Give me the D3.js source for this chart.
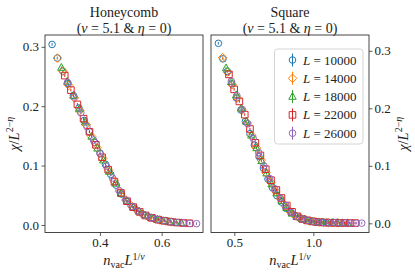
<!DOCTYPE html>
<html><head><meta charset="utf-8">
<script src="https://cdn.jsdelivr.net/npm/d3@7"></script>
<style>
body{margin:0;background:#fff}
svg{display:block}
text{font-family:"Liberation Serif","DejaVu Serif",serif;fill:#222}
</style>
</head><body>
<svg id="c" width="415" height="274"></svg>
<script>
// ---------------- data ----------------
const sizes = [10000, 14000, 18000, 22000, 26000];
const seriesColors = ["#1f77b4", "#ff7f0e", "#2ca02c", "#d62728", "#9467bd"];
const seriesShapes = ["circle", "diamond", "triangle", "square", "circle"];
const yTicks = [0.0, 0.1, 0.2, 0.3];
const honeycombXTicks = [0.4, 0.6];
const squareXTicks = [0.5, 1.0];

// Honeycomb panel: x = n_vac L^{1/nu}, y = chi / L^{2-eta}
const honeycombX = [
  [0.245,0.262,0.280,0.297,0.314,0.332,0.349,0.366,0.383,0.401,0.418,0.435,0.453,0.470,0.487,0.505,0.522,0.539,0.556,0.574,0.591],
  [0.262,0.280,0.299,0.317,0.335,0.355,0.373,0.391,0.409,0.428,0.446,0.465,0.484,0.502,0.520,0.539,0.557,0.576,0.594,0.613,0.631],
  [0.275,0.294,0.314,0.333,0.352,0.373,0.392,0.411,0.430,0.450,0.469,0.488,0.508,0.527,0.546,0.567,0.586,0.605,0.624,0.644,0.663],
  [0.286,0.306,0.327,0.347,0.366,0.387,0.407,0.427,0.447,0.468,0.488,0.508,0.529,0.548,0.568,0.589,0.609,0.629,0.649,0.670,0.690],
  [0.295,0.316,0.338,0.358,0.379,0.400,0.421,0.441,0.462,0.484,0.504,0.525,0.546,0.567,0.587,0.609,0.630,0.650,0.671,0.692,0.713]
];
const honeycombY = [
  [0.304,0.281,0.259,0.238,0.218,0.197,0.176,0.157,0.139,0.120,0.102,0.085,0.067,0.052,0.040,0.031,0.024,0.018,0.014,0.011,0.0086],
  [0.281,0.259,0.235,0.214,0.193,0.169,0.149,0.130,0.112,0.092,0.074,0.056,0.042,0.032,0.025,0.018,0.0137,0.0106,0.0083,0.0065,0.0052],
  [0.265,0.2415,0.218,0.195,0.173,0.149,0.129,0.109,0.090,0.070,0.053,0.040,0.030,0.0225,0.0165,0.012,0.0093,0.0071,0.0057,0.0043,0.0034],
  [0.2515,0.227,0.203,0.179,0.157,0.135,0.114,0.093,0.073,0.054,0.040,0.030,0.022,0.016,0.012,0.0089,0.0069,0.0053,0.0041,0.0033,0.0028],
  [0.240,0.2155,0.189,0.1655,0.143,0.121,0.099,0.079,0.058,0.042,0.031,0.023,0.0165,0.012,0.0092,0.0069,0.0052,0.0040,0.0032,0.0027,0.0022]
];

// Square panel
const squareX = [
  [0.399,0.428,0.456,0.485,0.513,0.542,0.570,0.599,0.627,0.656,0.684,0.713,0.741,0.770,0.798,0.827,0.855,0.884,0.912,0.941,0.969,0.998,1.026,1.055,1.083],
  [0.426,0.457,0.487,0.518,0.548,0.579,0.609,0.640,0.670,0.701,0.731,0.761,0.791,0.822,0.852,0.883,0.913,0.944,0.974,1.005,1.035,1.066,1.096,1.127,1.157],
  [0.448,0.480,0.512,0.544,0.576,0.608,0.640,0.672,0.704,0.736,0.767,0.800,0.831,0.864,0.895,0.928,0.959,0.992,1.023,1.056,1.087,1.120,1.151,1.184,1.215],
  [0.466,0.499,0.532,0.566,0.599,0.633,0.665,0.699,0.732,0.766,0.798,0.832,0.865,0.899,0.931,0.965,0.998,1.032,1.064,1.098,1.131,1.165,1.197,1.231,1.264],
  [0.481,0.516,0.550,0.585,0.619,0.654,0.687,0.722,0.756,0.791,0.825,0.860,0.894,0.929,0.962,0.997,1.031,1.066,1.100,1.135,1.169,1.204,1.237,1.272,1.306]
];
const squareY = [
  [0.313,0.286,0.264,0.2425,0.218,0.197,0.177,0.156,0.136,0.116,0.096,0.077,0.062,0.048,0.037,0.026,0.0195,0.0134,0.0098,0.0065,0.0046,0.0031,0.0022,0.0015,0.0012],
  [0.288,0.263,0.241,0.218,0.197,0.175,0.153,0.131,0.110,0.088,0.071,0.0555,0.043,0.030,0.0204,0.0136,0.0097,0.0062,0.0043,0.0029,0.0019,0.0014,0.0010,0.0009,0.0008],
  [0.270,0.246,0.223,0.200,0.177,0.153,0.131,0.1085,0.087,0.068,0.0525,0.039,0.027,0.0172,0.0113,0.0077,0.0051,0.0033,0.0023,0.0015,0.0011,0.0009,0.0008,0.0006,0.0005],
  [0.259,0.233,0.212,0.189,0.164,0.140,0.118,0.094,0.075,0.058,0.044,0.031,0.020,0.0121,0.0074,0.0049,0.0031,0.0020,0.0014,0.0010,0.0009,0.0007,0.0005,0.0004,0.0004],
  [0.247,0.222,0.198,0.173,0.148,0.123,0.100,0.078,0.060,0.044,0.031,0.019,0.0116,0.0076,0.0050,0.0031,0.0020,0.0014,0.0010,0.0008,0.0007,0.0005,0.0004,0.0003,0.0003]
];

// ---------------- drawing ----------------
const svg = d3.select("#c");
const plotTop = 35, plotBottom = 232.5;
const serif = '"Liberation Serif","DejaVu Serif",serif';

function shapePath(kind) {
  if (kind === "circle") return "M3.3,0A3.3,3.3 0 1,1 -3.3,0A3.3,3.3 0 1,1 3.3,0Z";
  if (kind === "diamond") return "M0,-4.3L4.3,0L0,4.3L-4.3,0Z";
  if (kind === "triangle") return "M0,-4.1L3.7,2.7L-3.7,2.7Z";
  return "M-3.3,-3.3H3.3V3.3H-3.3Z";
}

function panel(opts) {
  const x = d3.scaleLinear().domain(opts.xDomain).range([opts.left, opts.right]);
  const y = d3.scaleLinear().domain(opts.yDomain).range([plotBottom, plotTop]);
  const g = svg.append("g");

  // points
  opts.X.forEach((xs, si) => {
    const sg = g.append("g");
    xs.forEach((xv, i) => {
      const px = x(xv), py = y(opts.Y[si][i]);
      sg.append("line").attr("x1", px).attr("x2", px).attr("y1", py - 1.3).attr("y2", py + 1.3)
        .attr("stroke", seriesColors[si]).attr("stroke-width", 1);
      sg.append("path").attr("d", shapePath(seriesShapes[si]))
        .attr("transform", `translate(${px},${py})`)
        .attr("fill", "none").attr("stroke", seriesColors[si]).attr("stroke-width", 1);
    });
  });

  // frame
  g.append("rect").attr("x", opts.left).attr("y", plotTop)
    .attr("width", opts.right - opts.left).attr("height", plotBottom - plotTop)
    .attr("fill", "none").attr("stroke", "#333").attr("stroke-width", 0.9);

  const xa = g.append("g").attr("transform", `translate(0,${plotBottom})`)
    .call(d3.axisBottom(x).tickValues(opts.xTicks).tickFormat(d3.format(".1f")).tickSize(3.5).tickPadding(1.5));
  const ya = opts.yRight
    ? g.append("g").attr("transform", `translate(${opts.right},0)`)
        .call(d3.axisRight(y).tickValues(yTicks).tickFormat(d3.format(".1f")).tickSize(3.5).tickPadding(2))
    : g.append("g").attr("transform", `translate(${opts.left},0)`)
        .call(d3.axisLeft(y).tickValues(yTicks).tickFormat(d3.format(".1f")).tickSize(3.5).tickPadding(2.5));
  [xa, ya].forEach(a => {
    a.attr("font-family", serif).attr("font-size", 13);
    a.select(".domain").remove();
    a.selectAll(".tick line").attr("stroke", "#333").attr("stroke-width", 0.8);
    a.selectAll(".tick text").style("font-family", serif).style("font-size", "13px").attr("fill", "#222");
  });

  // titles
  const cx = (opts.left + opts.right) / 2;
  svg.append("text").attr("x", cx).attr("y", 16.5).attr("text-anchor", "middle")
    .attr("font-size", 14).text(opts.title);
  const t2 = svg.append("text").attr("x", cx).attr("y", 32.5).attr("text-anchor", "middle").attr("font-size", 14);
  t2.append("tspan").text("(");
  t2.append("tspan").attr("font-style", "italic").text("ν");
  t2.append("tspan").text(" = 5.1 & ");
  t2.append("tspan").attr("font-style", "italic").text("η");
  t2.append("tspan").text(" = 0)");

  // x label
  const xl = svg.append("text").attr("x", cx).attr("y", 265).attr("text-anchor", "middle").attr("font-size", 14.5);
  xl.append("tspan").attr("font-style", "italic").text("n");
  xl.append("tspan").attr("font-size", 10).attr("dy", 3).text("vac");
  xl.append("tspan").attr("font-style", "italic").attr("dy", -3).text("L");
  xl.append("tspan").attr("font-size", 10).attr("dy", -5).text("1/");
  xl.append("tspan").attr("font-size", 10).attr("font-style", "italic").text("ν");

  // y label
  const yl = svg.append("text").attr("transform", `translate(${opts.yLabelX},${(plotTop + plotBottom) / 2}) rotate(-90)`)
    .attr("text-anchor", "middle").attr("font-size", 14.5);
  yl.append("tspan").attr("font-style", "italic").text("χ");
  yl.append("tspan").text("/");
  yl.append("tspan").attr("font-style", "italic").text("L");
  yl.append("tspan").attr("font-size", 10).attr("dy", -6).text("2−");
  yl.append("tspan").attr("font-size", 10).attr("font-style", "italic").text("η");
}

panel({ left: 45, right: 203, xDomain: [0.222, 0.734], yDomain: [-0.0127, 0.3199],
  X: honeycombX, Y: honeycombY, xTicks: honeycombXTicks, yRight: false, title: "Honeycomb", yLabelX: 19 });
panel({ left: 211, right: 369, xDomain: [0.3525, 1.352], yDomain: [-0.016, 0.3275],
  X: squareX, Y: squareY, xTicks: squareXTicks, yRight: true, title: "Square", yLabelX: 408 });

// legend
const lg = svg.append("g");
lg.append("rect").attr("x", 274.5).attr("y", 49).attr("width", 88.5).attr("height", 95).attr("rx", 3)
  .attr("fill", "#fff").attr("fill-opacity", 0.8).attr("stroke", "#d0d0d0").attr("stroke-width", 0.9);
sizes.forEach((L, i) => {
  const cy = 60 + i * 18.3, mx = 292.5;
  lg.append("line").attr("x1", mx).attr("x2", mx).attr("y1", cy - 6.5).attr("y2", cy + 6.5)
    .attr("stroke", seriesColors[i]).attr("stroke-width", 1);
  lg.append("path").attr("d", shapePath(seriesShapes[i])).attr("transform", `translate(${mx},${cy})`)
    .attr("fill", "none").attr("stroke", seriesColors[i]).attr("stroke-width", 1);
  const t = lg.append("text").attr("x", 303).attr("y", cy + 4.5).attr("font-size", 13);
  t.append("tspan").attr("font-style", "italic").text("L");
  t.append("tspan").text(" = " + L);
});
</script>
</body></html>
